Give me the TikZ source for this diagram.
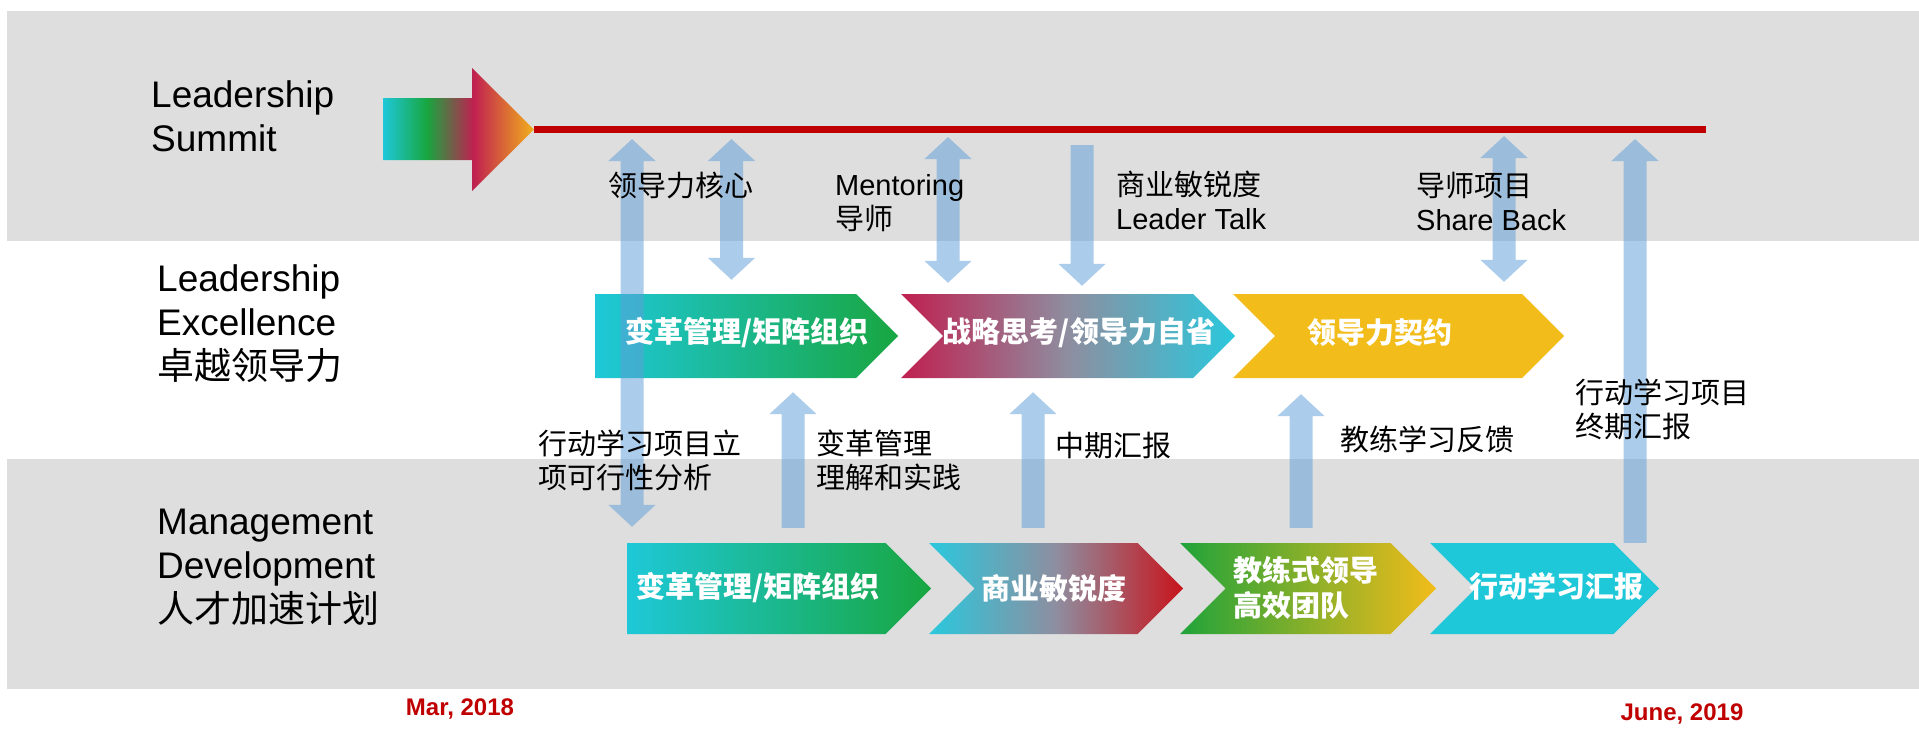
\documentclass[tikz,border=0pt]{standalone}
\usepackage{fontspec}
\setmainfont{Liberation Sans}
\newfontfamily\cjk{Noto Sans CJK SC}
\usetikzlibrary{arrows.meta, shapes.symbols, positioning}

\definecolor{bandgray}{RGB}{222,222,222}
\definecolor{lineRed}{RGB}{192,0,0}
\definecolor{arrBlue}{RGB}{95,158,216}
\definecolor{chCyan}{RGB}{30,200,216}
\definecolor{chTeal}{RGB}{42,200,221}
\definecolor{chGreen}{RGB}{24,166,64}
\definecolor{chLeaf}{RGB}{32,163,58}
\definecolor{chCrimson}{RGB}{192,32,80}
\definecolor{chMauve}{RGB}{142,142,160}
\definecolor{chRed}{RGB}{200,20,28}
\definecolor{chGold}{RGB}{242,188,26}
\definecolor{chOrange}{RGB}{242,176,28}

\pgfdeclarehorizontalshading{summitshade}{100bp}{color(0bp)=(chCyan); color(25bp)=(chCyan); color(39.5bp)=(chGreen); color(55bp)=(chCrimson); color(75bp)=(chOrange); color(100bp)=(chOrange)}

\tikzset{
  lane/.style={fill=bandgray, draw=none},
  chev/.style={signal, signal to=east, signal pointer angle=90, inner sep=0pt, draw=none},
  chevup/.style={chev, minimum height=84pt},
  chevlow/.style={chev, minimum height=91pt},
  notch/.style={signal from=west},
  chevtext/.style={text=white, align=left, inner sep=0pt, font=\cjk\bfseries\fontsize{29}{35}\selectfont},
  rowtitle/.style={anchor=west, align=left, inner sep=0pt, font=\fontsize{37}{44}\selectfont},
  note/.style={anchor=west, align=left, inner sep=0pt, font=\fontsize{29}{34}\selectfont},
  cnote/.style={note, font=\cjk\fontsize{29}{34}\selectfont},
  datelbl/.style={text=lineRed, inner sep=0pt, font=\bfseries\fontsize{24}{28}\selectfont},
  timeline/.style={draw=lineRed, line width=7pt},
  bluearr/.style={draw=arrBlue, line width=23pt},
  upend/.style={-{Triangle[width=46pt,length=22pt]}},
  bothend/.style={{Triangle[width=46pt,length=22pt]}-{Triangle[width=46pt,length=22pt]}}
}

\begin{document}
\begin{tikzpicture}[x=1pt, y=-1pt]
\useasboundingbox (0,0) rectangle (1919,729);
\fill[white] (0,0) rectangle (1919,729);
\fill[lane] (7,11) rectangle (1919,241);
\fill[lane] (7,459) rectangle (1919,689);

\node[rowtitle] (summit-lbl) at (151,116) {Leadership\\Summit};
\node[rowtitle] (excel-lbl) at (157,324) {Leadership\\Excellence\\{\cjk 卓越领导力}};
\node[rowtitle] (mgmt-lbl) at (157,567) {Management\\Development\\{\cjk 人才加速计划}};

\shade[shading=summitshade] (383,98) -- (472,98) -- (472,68) -- (534,129.5)
  -- (472,191) -- (472,160) -- (383,160) -- cycle;
\coordinate (tlstart) at (534,129.5);
\coordinate (tlend) at (1706,129.5);
\draw[timeline] (tlstart) -- (tlend);

\node[chevup, minimum width=303pt, anchor=west, left color=chCyan, right color=chGreen] (m1) at (595,336) {};
\node[chevup, notch, minimum width=334pt, left color=chCrimson, right color=chTeal, middle color=chMauve] (m2) at (1068,336) {};
\node[chevup, notch, minimum width=331pt, fill=chGold] (m3) at (1398.5,336) {};

\node[chevlow, minimum width=304pt, anchor=west, left color=chCyan, right color=chGreen] (l1) at (627,588.5) {};
\node[chevlow, notch, minimum width=254pt, left color=chTeal, right color=chRed, middle color=chMauve] (l2) at (1056,588.5) {};
\node[chevlow, notch, minimum width=256pt, left color=chLeaf, right color=chGold] (l3) at (1308,588.5) {};
\node[chevlow, notch, minimum width=229pt, fill=chCyan] (l4) at (1544.5,588.5) {};

\coordinate (colA) at (632,0);
\coordinate (colB) at (731.5,0);
\coordinate (colC) at (948,0);
\coordinate (colD) at (1082,0);
\coordinate (colE) at (1504,0);
\coordinate (colF) at (1635,0);
\coordinate (colG) at (793,0);
\coordinate (colH) at (1033,0);
\coordinate (colI) at (1301,0);

\begin{scope}[transparency group, opacity=0.52]
\draw[bluearr, bothend, shorten <=9.5pt, shorten >=16pt] (colA |- tlstart) -- (colA |- l1.north);
\draw[bluearr, bothend, shorten <=9.5pt, shorten >=14pt] (colB |- tlstart) -- (colB |- m1.north);
\draw[bluearr, bothend, shorten <=7.5pt, shorten >=11pt] (colC |- tlstart) -- (colC |- m2.north);
\draw[bluearr, upend, shorten <=15.5pt, shorten >=8pt] (colD |- tlstart) -- (colD |- m2.north);
\draw[bluearr, bothend, shorten <=6.5pt, shorten >=12pt] (colE |- tlstart) -- (colE |- m3.north);
\draw[bluearr, upend, shorten >=9.5pt] (colF |- l4.north) -- (colF |- tlstart);
\draw[bluearr, upend, shorten <=15pt, shorten >=14pt] (colG |- l1.north) -- (colG |- m1.south);
\draw[bluearr, upend, shorten <=15pt, shorten >=14pt] (colH |- l2.north) -- (colH |- m2.south);
\draw[bluearr, upend, shorten <=15pt, shorten >=16pt] (colI |- l3.north) -- (colI |- m3.south);
\end{scope}

\node[chevtext] (m1-txt) at (747,333) {变革管理/矩阵组织};
\node[chevtext] (m2-txt) at (1079,333) {战略思考/领导力自省};
\node[chevtext] (m3-txt) at (1380,333) {领导力契约};
\node[chevtext] (l1-txt) at (758,588) {变革管理/矩阵组织};
\node[chevtext] (l2-txt) at (1054,588) {商业敏锐度};
\node[chevtext] (l3-txt) at (1306,587.5) {教练式领导\\高效团队};
\node[chevtext] (l4-txt) at (1556,586) {行动学习汇报};

\node[cnote] (core-lbl) at (608,185) {领导力核心};
\node[note] (mentor-lbl) at (835,203) {Mentoring\\{\cjk 导师}};
\node[note] (talk-lbl) at (1116,200) {{\cjk 商业敏锐度}\\Leader Talk};
\node[note] (share-lbl) at (1416,201) {{\cjk 导师项目}\\Share Back};
\node[cnote] (final-lbl) at (1575,409) {行动学习项目\\终期汇报};
\node[cnote] (setup-lbl) at (538,460) {行动学习项目立\\项可行性分析};
\node[cnote] (change-lbl) at (816,460) {变革管理\\理解和实践};
\node[cnote] (mid-lbl) at (1055,446) {中期汇报};
\node[cnote] (coach-lbl) at (1340,439) {教练学习反馈};

\node[datelbl] (date-start) at (460,709) {Mar, 2018};
\node[datelbl] (date-end) at (1682,714) {June, 2019};
\end{tikzpicture}
\end{document}
